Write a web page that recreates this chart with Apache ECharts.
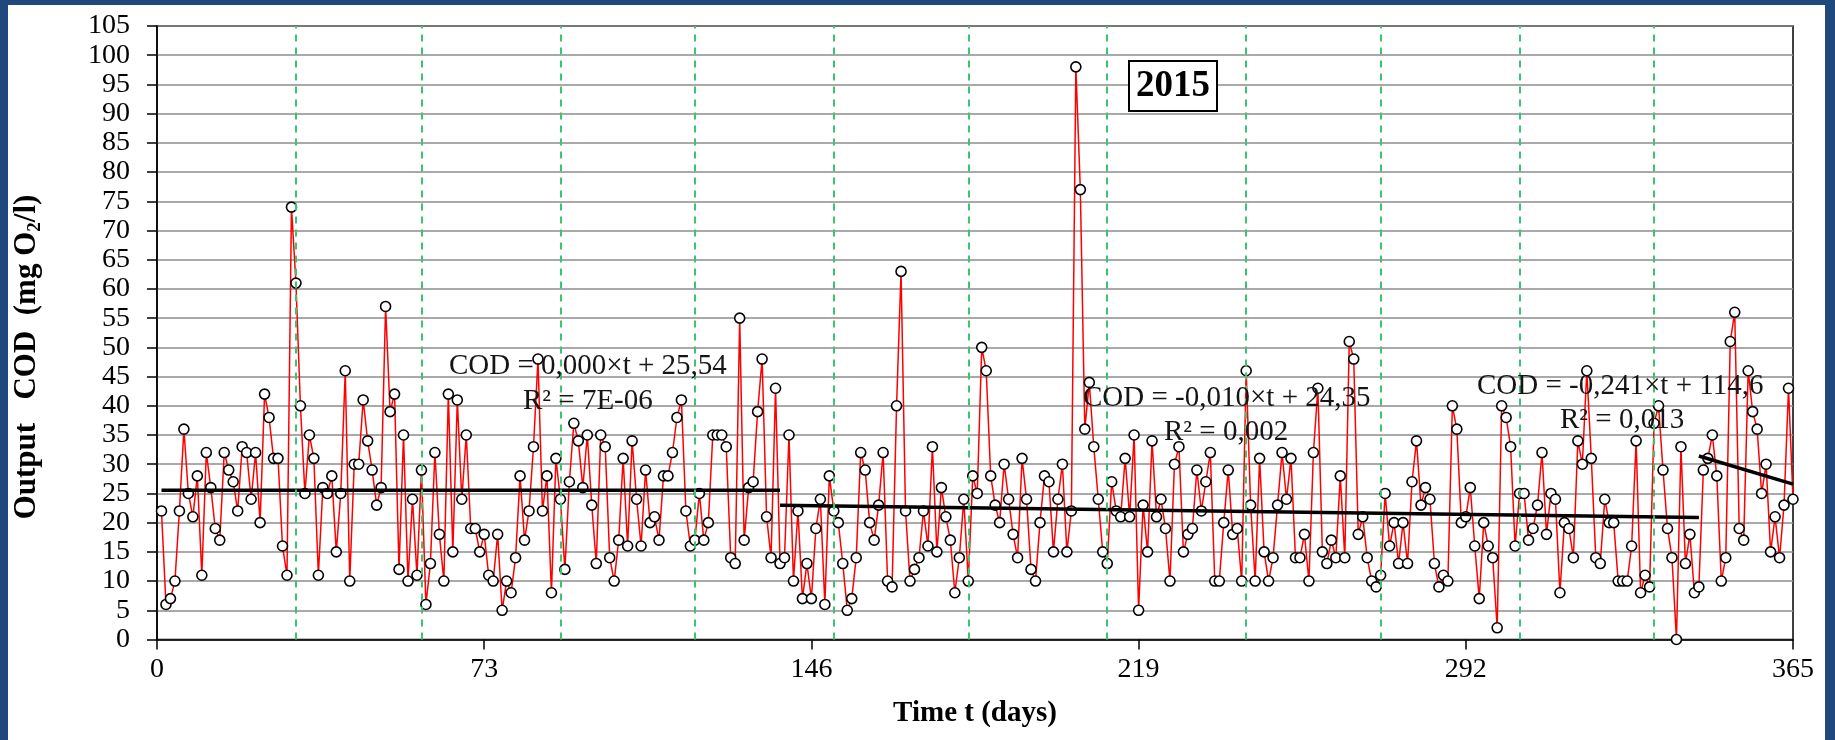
<!DOCTYPE html>
<html><head><meta charset="utf-8">
<script src="https://cdn.jsdelivr.net/npm/echarts@6/dist/echarts.min.js"></script>
<style>
html,body{margin:0;padding:0;background:#1f497d;width:1835px;height:740px;overflow:hidden;}
#chart{position:absolute;left:8px;top:5px;width:1817px;height:735px;background:#fff;}
</style></head><body><div id="chart"></div>
<script>
// day index of each sample (1..365)
const days = [];
for (let d = 1; d <= 365; d++) days.push(d);

// Output COD (mg O2/l), one value per day
const cod = [
22,6,7,10,22,36,25,21,28,11, 32,26,19,17,32,29,27,22,33,32,
24,32,20,42,38,31,31,16,11,74, 61,40,25,35,31,11,26,25,28,15,
25,46,10,30,30,41,34,29,23,26, 57,39,42,12,35,10,24,11,29,6,
13,32,18,10,42,15,41,24,35,19, 19,15,18,11,10,18,5,10,8,14,
28,17,22,33,48,22,28,8,31,24, 12,27,37,34,26,35,23,13,35,33,
14,10,17,31,16,34,24,16,29,20, 21,17,28,28,32,38,41,22,16,17,
25,17,20,35,35,35,33,14,13,55, 17,26,27,39,48,21,14,43,13,14,
35,10,22,7,13,7,19,24,6,28, 22,20,13,5,7,14,32,29,20,17,
23,32,10,9,40,63,22,10,12,14, 22,16,33,15,26,21,17,8,14,24,
10,28,25,50,46,28,23,20,30,24, 18,14,31,24,12,10,20,28,27,15,
24,30,15,22,98,77,36,44,33,24, 15,13,27,22,21,31,21,35,5,23,
15,34,21,24,19,10,30,33,15,18, 19,29,22,27,32,10,10,20,29,18,
19,10,46,23,10,31,15,10,14,23, 32,24,31,14,14,18,10,32,43,15,
13,17,14,28,14,51,48,18,21,14, 10,9,11,25,16,20,13,20,13,27,
34,23,26,24,13,9,11,10,40,36, 20,21,26,16,7,20,16,14,2,40,
38,33,16,25,25,17,19,23,32,18, 25,24,8,20,19,14,34,30,46,31,
14,13,24,20,20,10,10,10,16,34, 8,11,9,37,40,29,19,14,0,33,
13,18,8,9,29,31,35,28,10,14, 51,56,19,17,46,39,36,25,30,15,
21,14,23,43,24
];

// month boundaries (green dashed lines)
const monthEnds = [31,59,90,120,151,181,212,243,273,304,334];

// linear trend segments [t, COD]
const trend1 = [[1,25.54],[139,25.54]];
const trend2 = [[139,22.96],[344,20.9]];
const trend3 = [[344,31.4],[365,26.6]];

// texts
const eqTexts = ['COD = 0,000×t + 25,54','R² = 7E-06','COD = -0,010×t + 24,35','R² = 0,002','COD = -0,241×t + 114,6','R² = 0,013'];
const yearLabel = '2015';

const serif = 'Liberation Serif, Times New Roman, serif';
const chart = echarts.init(document.getElementById('chart'), null, {renderer:'canvas'});

const codData = days.map((d,i)=>[d,cod[i]]);

const eqPos = [[441,361],[515,396],[1075,393],[1156,427],[1469,381],[1552,415]];
const eqGraphics = eqTexts.map((t,i)=>({
  type:'text', z:100, x:eqPos[i][0], y:eqPos[i][1],
  style:{text:t, fill:'#151515', fontFamily:serif, fontSize:29, align:'left', verticalAlign:'middle'}
}));

chart.setOption({
  animation:false,
  backgroundColor:'#fff',
  grid:{left:149,right:32,top:21,bottom:100.5,show:true,borderColor:'#000',borderWidth:1.5,backgroundColor:'transparent'},
  xAxis:{
    type:'value',min:0,max:365,interval:73,
    axisLine:{show:true,lineStyle:{color:'#000',width:1.5}},
    axisTick:{show:true,length:10,lineStyle:{color:'#000',width:1.5}},
    axisLabel:{color:'#000',fontFamily:serif,fontSize:28,margin:16},
    splitLine:{show:false}
  },
  yAxis:{
    type:'value',min:0,max:105,interval:5,
    axisLine:{show:true,lineStyle:{color:'#000',width:1.5}},
    axisTick:{show:true,length:10,lineStyle:{color:'#000',width:1.5}},
    axisLabel:{color:'#000',fontFamily:serif,fontSize:28,margin:27},
    splitLine:{show:true,lineStyle:{color:'#8c8c8c',width:1.5}}
  },
  series:[
    {type:'line',data:[],z:1,silent:true,
     markLine:{silent:true,symbol:['none','none'],label:{show:false},
       lineStyle:{color:'#3cc46e',type:[7,6],width:2},
       data:monthEnds.map(d=>({xAxis:d}))}},
    {type:'line',data:codData,z:3,
     lineStyle:{color:'#ff0000',width:1.5},
     symbol:'circle',symbolSize:10,showSymbol:true,showAllSymbol:true,
     itemStyle:{color:'#ffffff',borderColor:'#000',borderWidth:1.6}},
    {type:'line',data:trend1,z:4,symbol:'none',lineStyle:{color:'#000',width:3.5}},
    {type:'line',data:trend2,z:4,symbol:'none',lineStyle:{color:'#000',width:3.5}},
    {type:'line',data:trend3,z:4,symbol:'none',lineStyle:{color:'#000',width:3.5}}
  ],
  graphic:[
    {type:'text',z:100,x:19,y:352,rotation:Math.PI/2,
     style:{text:'{b|Output   COD  (mg O}{s|2}{b|/l)}',align:'center',verticalAlign:'middle',
       rich:{b:{fontFamily:serif,fontSize:31,fontWeight:'bold',fill:'#000',color:'#000',lineHeight:36},
             s:{fontFamily:serif,fontSize:19,fontWeight:'bold',fill:'#000',color:'#000',lineHeight:36,verticalAlign:'bottom'}}}},
    {type:'text',z:100,x:967,y:709,
     style:{text:'Time t (days)',fill:'#000',fontFamily:serif,fontSize:29,fontWeight:'bold',align:'center',verticalAlign:'middle'}},
    {type:'rect',z:100,shape:{x:1121,y:56,width:88,height:50},style:{fill:'#fff',stroke:'#000',lineWidth:2}},
    {type:'text',z:101,x:1165,y:81,
     style:{text:yearLabel,fill:'#000',fontFamily:serif,fontSize:37,fontWeight:'bold',align:'center',verticalAlign:'middle'}}
  ].concat(eqGraphics)
});
</script></body></html>
